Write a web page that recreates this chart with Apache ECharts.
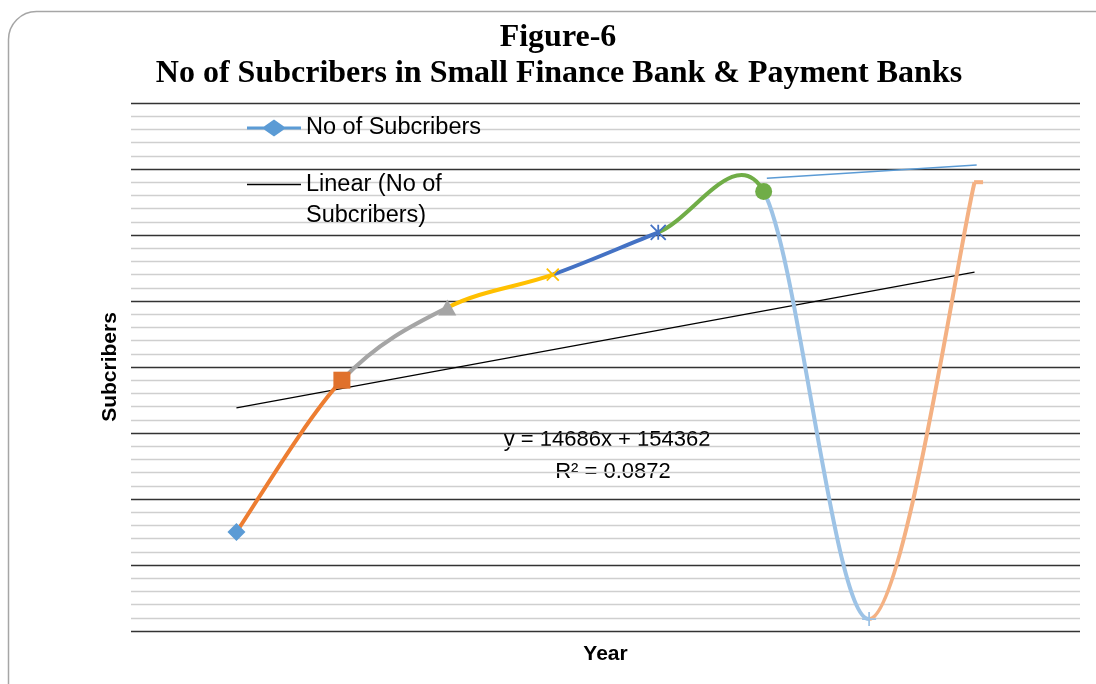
<!DOCTYPE html>
<html>
<head>
<meta charset="utf-8">
<title>Figure-6</title>
<script src="https://cdn.jsdelivr.net/npm/echarts@6/dist/echarts.min.js"></script>
<style>
  html, body { margin: 0; padding: 0; background: #fff; overflow: hidden; }
  #chart { width: 1096px; height: 684px; }
</style>
</head>
<body>
<div id="chart"></div>
<script>
// values (Excel plots the points at 1..8 on the x axis)
const years = [1, 2, 3, 4, 5, 6, 7, 8];
const subscribers = [75000, 190000, 245000, 270000, 302000, 333000, 9000, 340000];

// linear trend line printed on the chart: y = 14686x + 154362
const trendSlope = 14686;
const trendIntercept = 154362;
const trendRSquared = 0.0872;
const trendYears = [1, 8];

// thin blue stroke near the top right of the plot
const strayX = [6.03, 8.02];
const strayY = [343000, 353000];

// axes
const xRange = [0, 9];
const yRange = [0, 400000];
const yStep = 50000;

// Excel "vary colours by point" palette
const segmentColors = ['#ED7D31', '#A5A5A5', '#FFC000', '#4472C4', '#70AD47', '#9DC3E6', '#F4B183'];
const markerColors = ['#5B9BD5', '#E0712C', '#A5A5A5', '#FFC000', '#4472C4', '#70AD47', '#9DC3E6', '#F4B183'];

const FONT_SANS = "'Liberation Sans', Arial, sans-serif";
const FONT_SERIF = "'Liberation Serif', 'Times New Roman', serif";

// marker look for each point
const markerStyles = [
  { symbol: 'diamond', symbolSize: 18, fill: true },
  { symbol: 'rect', symbolSize: 17, fill: true },
  { symbol: 'triangle', symbolSize: [18, 16], fill: true },
  { symbol: 'path://M0,0L10,10M10,0L0,10', symbolSize: 12, fill: false },
  { symbol: 'path://M5,0L5,10M0,0L10,10M10,0L0,10', symbolSize: 15, fill: false },
  { symbol: 'circle', symbolSize: 17, fill: true },
  { symbol: 'path://M5,0L5,10M0,5L10,5', symbolSize: 14, fill: false },
  { symbol: 'rect', symbolSize: [9, 4], fill: true, offset: [4, 0] }
];

const linePoints = years.map((x, i) => [x, subscribers[i]]);

const markerPoints = years.map((x, i) => {
  const m = markerStyles[i];
  return {
    value: [x, subscribers[i]],
    symbol: m.symbol,
    symbolSize: m.symbolSize,
    symbolOffset: m.offset || [0, 0],
    itemStyle: m.fill
      ? { color: markerColors[i], borderWidth: 0, opacity: 1 }
      : { color: 'none', borderColor: markerColors[i], borderWidth: 1.8, opacity: 1 }
  };
});

const trendPoints = trendYears.map(x => [x, trendSlope * x + trendIntercept]);
const strayPoints = strayX.map((x, i) => [x, strayY[i]]);

// Excel-style smoothing: bezier with 1/6 tangents, capped at half the segment length
function tangent(prev, next, segLen) {
  const vx = next[0] - prev[0], vy = next[1] - prev[1];
  const d = Math.sqrt(vx * vx + vy * vy);
  if (!d) return [0, 0];
  let f = 1 / 6;
  if (d / 6 >= segLen / 2) f = segLen / 2 / d;
  return [vx * f, vy * f];
}

function renderSegment(params, api) {
  const i = params.dataIndex;
  const n = years.length;
  if (i >= n - 1) return null;
  const pt = j => {
    const k = Math.max(0, Math.min(n - 1, j));
    return api.coord([years[k], subscribers[k]]);
  };
  const p0 = pt(i - 1), p1 = pt(i), p2 = pt(i + 1), p3 = pt(i + 2);
  const segLen = Math.hypot(p2[0] - p1[0], p2[1] - p1[1]);
  const t1 = tangent(p0, p2, segLen);
  const t2 = tangent(p1, p3, segLen);
  return {
    type: 'bezierCurve',
    shape: {
      x1: p1[0], y1: p1[1],
      x2: p2[0], y2: p2[1],
      cpx1: p1[0] + t1[0], cpy1: p1[1] + t1[1],
      cpx2: p2[0] - t2[0], cpy2: p2[1] - t2[1]
    },
    style: { stroke: segmentColors[i], fill: 'none', lineWidth: 4 }
  };
}

const chart = echarts.init(document.getElementById('chart'), null, { renderer: 'canvas' });

const option = {
  backgroundColor: '#fff',
  animation: false,
  grid: { left: 131, right: 16, top: 103, bottom: 53, outerBoundsMode: 'none' },
  xAxis: {
    type: 'value',
    min: xRange[0],
    max: xRange[1],
    axisLine: { show: false },
    axisTick: { show: false },
    axisLabel: { show: false },
    splitLine: { show: false },
    name: 'Year',
    nameLocation: 'middle',
    nameGap: 13,
    nameTextStyle: { fontFamily: FONT_SANS, fontWeight: 'bold', fontSize: 21, color: '#000' }
  },
  yAxis: {
    type: 'value',
    min: yRange[0],
    max: yRange[1],
    interval: yStep,
    axisLine: { show: false },
    axisTick: { show: false },
    axisLabel: { show: false },
    splitLine: { show: true, lineStyle: { color: '#333', width: 1.3 } },
    minorTick: { show: false, splitNumber: 5 },
    minorSplitLine: { show: true, lineStyle: { color: '#cfcfcf', width: 1.4 } },
    name: 'Subcribers',
    nameLocation: 'middle',
    nameGap: 10,
    nameTextStyle: { fontFamily: FONT_SANS, fontWeight: 'bold', fontSize: 21, color: '#000' }
  },
  legend: [
    {
      selectedMode: false,
      left: 247,
      top: 116,
      padding: 0,
      itemWidth: 54,
      itemHeight: 17,
      textStyle: { fontFamily: FONT_SANS, fontSize: 23.5, color: '#000' },
      data: [{
        name: 'No of Subcribers',
        icon: 'path://M0,7L17,7L27,0L37,7L54,7L54,10L37,10L27,17L17,10L0,10Z',
        itemStyle: { color: '#5B9BD5' }
      }]
    },
    {
      selectedMode: false,
      left: 247,
      top: 138,
      padding: 0,
      itemWidth: 54,
      itemHeight: 17,
      // leading blank line keeps the first text line level with the icon
      formatter: () => '\nLinear (No of\nSubcribers)',
      textStyle: { fontFamily: FONT_SANS, fontSize: 23.5, color: '#000', lineHeight: 31 },
      data: [{
        name: 'Linear (No of Subcribers)',
        icon: 'path://M0,0L54,0L54,1.4L0,1.4Z',
        itemStyle: { color: '#000' }
      }]
    }
  ],
  graphic: [
    {
      type: 'rect',
      silent: true,
      shape: { x: 8.5, y: 11.5, width: 1200, height: 800, r: 28 },
      style: { fill: 'none', stroke: '#a6a6a6', lineWidth: 1.5 }
    },
    {
      type: 'text',
      x: 558, y: 38,
      style: { text: 'Figure-6', font: 'bold 32px ' + FONT_SERIF, fill: '#000', textAlign: 'center', textVerticalAlign: 'middle', align: 'center', verticalAlign: 'middle' }
    },
    {
      type: 'text',
      x: 559, y: 74,
      style: { text: 'No of Subcribers in Small Finance Bank & Payment Banks', font: 'bold 32px ' + FONT_SERIF, fill: '#000', textAlign: 'center', textVerticalAlign: 'middle', align: 'center', verticalAlign: 'middle' }
    },
    {
      type: 'text',
      x: 607, y: 440,
      style: { text: 'y = ' + trendSlope + 'x + ' + trendIntercept, font: '22px ' + FONT_SANS, fill: '#000', textAlign: 'center', textVerticalAlign: 'middle', align: 'center', verticalAlign: 'middle' }
    },
    {
      type: 'text',
      x: 613, y: 472,
      style: { text: 'R² = ' + trendRSquared, font: '22px ' + FONT_SANS, fill: '#000', textAlign: 'center', textVerticalAlign: 'middle', align: 'center', verticalAlign: 'middle' }
    }
  ],
  series: [
    {
      name: 'No of Subcribers',
      type: 'custom',
      data: linePoints,
      encode: { x: 0, y: 1 },
      renderItem: renderSegment,
      z: 3
    },
    {
      name: 'Linear (No of Subcribers)',
      type: 'line',
      data: trendPoints,
      showSymbol: false,
      lineStyle: { color: '#000', width: 1.2 },
      itemStyle: { color: '#000' },
      z: 2
    },
    {
      name: 'stray',
      type: 'line',
      data: strayPoints,
      showSymbol: false,
      silent: true,
      lineStyle: { color: '#5B9BD5', width: 1.5 },
      z: 2
    },
    {
      name: 'points',
      type: 'scatter',
      data: markerPoints,
      z: 4
    }
  ]
};

chart.setOption(option);
</script>
</body>
</html>
